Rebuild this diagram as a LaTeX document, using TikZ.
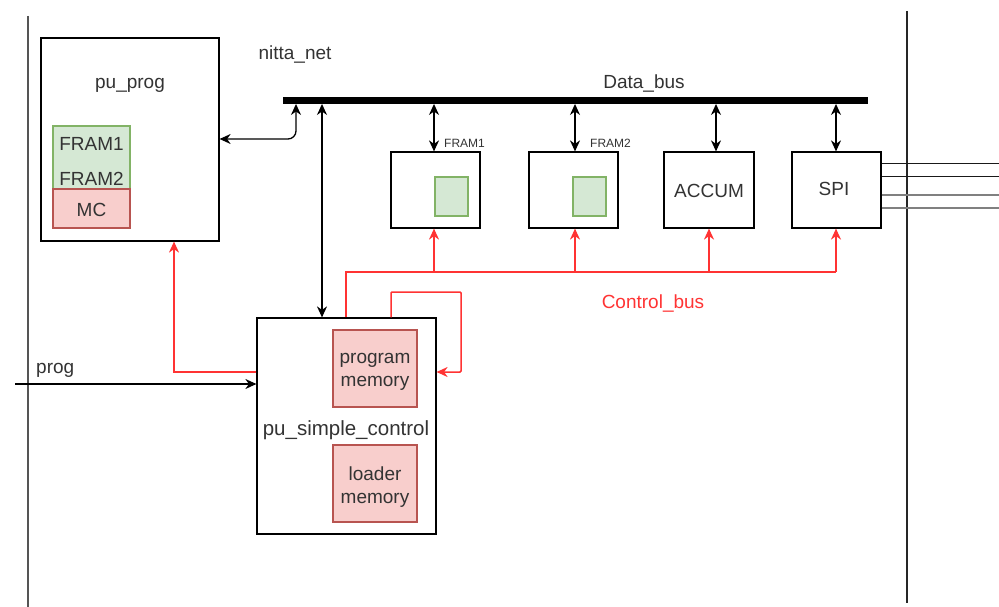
\documentclass[tikz,border=0pt]{standalone}
\usepackage{fontspec}
\setmainfont{Liberation Sans}
\usetikzlibrary{arrows.meta,calc}

\definecolor{txt}{HTML}{333333}
\definecolor{gfill}{HTML}{D5E8D4}
\definecolor{gline}{HTML}{82B366}
\definecolor{rfill}{HTML}{F8CECC}
\definecolor{rline}{HTML}{B85450}
\definecolor{ctrl}{HTML}{FF3333}
\definecolor{frame}{HTML}{555555}

\tikzset{
  x=1pt, y=-1pt,
  every node/.style={font=\fontsize{19}{23.5}\selectfont, text=txt, inner sep=0pt},
  unit/.style={draw=black, line width=1.2pt, fill=white, minimum width=#1},
  unit/.default=89pt,
  greenbox/.style={draw=gline, fill=gfill, line width=1.2pt},
  redbox/.style={draw=rline, fill=rfill, line width=1.2pt},
  tip/.style={-{Stealth[length=11pt,width=10pt,inset=3.5pt]}},
  bitip/.style={{Stealth[length=11pt,width=10pt,inset=3.5pt]}-{Stealth[length=11pt,width=10pt,inset=3.5pt]}},
  wire/.style={line width=1.3pt, draw=black},
  cwire/.style={line width=1.5pt, draw=ctrl},
  smalllabel/.style={font=\fontsize{12}{14}\selectfont, anchor=west},
}

\begin{document}
\begin{tikzpicture}
\useasboundingbox (0,0) rectangle (999,607);

% outer boundary lines
\draw[frame, line width=1.6pt] (28,16) -- (28,607);
\draw[black!85, line width=1.4pt] (907,11) -- (907,603);

% pu_prog block
\node[unit, minimum width=178pt, minimum height=203pt] (puprog) at (130,139.5) {};
\node (puprogT) at (130,85) {pu\_prog};
\node[greenbox, minimum width=77pt, minimum height=63pt] (fram) at (91.5,157.5) {};
\node (framA) at (91.5,144) {FRAM1};
\node (framB) at (91.5,178.5) {FRAM2};
\node[redbox, minimum width=77pt, minimum height=39pt] (mc) at (91.5,208.5) {};
\node (mcT) at (91.5,210) {MC};

\node (nitta) at (295,55) {nitta\_net};

% data bus
\node[fill=black, minimum width=585pt, minimum height=6.5pt] (bus) at (575.5,100.5) {};
\node (busT) at (644,84) {Data\_bus};

% processing units on the bus
\node[unit, minimum height=76pt] (fr1) at (435.5,190) {};
\node[greenbox, minimum width=33pt, minimum height=39pt] (fr1m) at (451.5,196.5) {};
\node[unit, minimum height=76pt] (fr2) at (573.5,190) {};
\node[greenbox, minimum width=33pt, minimum height=39pt] (fr2m) at (589.5,196.5) {};
\node[unit, minimum width=90pt, minimum height=76pt] (accum) at (709,190) {};
\node (accumT) at (709,191) {ACCUM};
\node[unit, minimum height=76pt] (spi) at (836.5,190) {};
\node (spiT) at (834,189) {SPI};

\node[smalllabel] (fr1L) at (444,143.5) {FRAM1};
\node[smalllabel] (fr2L) at (590,143.5) {FRAM2};

% tap points on the units
\coordinate (fr1Tap) at (434,0);
\coordinate (fr2Tap) at (575,0);
\coordinate (acTap) at (716,0);
\coordinate (spiTap) at (836,0);

% bus links
\draw[wire, bitip] (fr1Tap |- fr1.north) -- (fr1Tap |- bus.south);
\draw[wire, bitip] (fr2Tap |- fr2.north) -- (fr2Tap |- bus.south);
\draw[wire, bitip] (acTap |- accum.north) -- (acTap |- bus.south);
\draw[wire, bitip] (spiTap |- spi.north) -- (spiTap |- bus.south);
\coordinate (progTap) at (296,0);
\draw[wire, bitip, rounded corners=8pt] (puprog.east |- 0,139) -- (progTap |- 0,139) -- (progTap |- bus.south);

% SPI external lines
\draw[black!90, line width=1pt] (spi.east |- 0,164) -- (999,164);
\draw[black!90, line width=1pt] (spi.east |- 0,177) -- (999,177);
\draw[black!50, line width=1.6pt] (spi.east |- 0,195) -- (999,195);
\draw[black!50, line width=1.6pt] (spi.east |- 0,208) -- (999,208);

% pu_simple_control block
\node[unit, minimum width=179pt, minimum height=216pt] (ctl) at (346.5,426) {};
\node[font=\fontsize{20.5}{24}\selectfont] (ctlT) at (346,430) {pu\_simple\_control};
\node[redbox, minimum width=84pt, minimum height=77pt] (pmem) at (375,368.5) {};
\node[align=center] (pmemT) at (375,372) {program\\memory};
\node[redbox, minimum width=84pt, minimum height=77pt] (lmem) at (375,483.5) {};
\node[align=center] (lmemT) at (375,487) {loader\\memory};

\coordinate (ctlTap) at (322,0);
\draw[wire, bitip] (ctlTap |- ctl.north) -- (ctlTap |- bus.south);

% prog input
\coordinate (progIn) at (15,384);
\draw[wire, tip] (progIn) -- (ctl.west |- progIn);
\node[anchor=west] (progT) at (36,370) {prog};

% control bus
\coordinate (cb) at (346,272);
\draw[cwire] (ctl.north -| cb) -- (cb) -- (836,272);
\draw[cwire, tip] (fr1Tap |- cb) -- (fr1Tap |- fr1.south);
\draw[cwire, tip] (fr2Tap |- cb) -- (fr2Tap |- fr2.south);
\draw[cwire, tip] (accum.south |- cb) -- (accum.south);
\draw[cwire, tip] (spiTap |- cb) -- (spiTap |- spi.south);
\node[text=ctrl] (cbT) at (653,304) {Control\_bus};

% control to pu_prog
\coordinate (cp) at (174,372);
\draw[cwire, tip] (ctl.west |- cp) -- (cp) -- (cp |- puprog.south);

% feedback loop into program memory
\draw[cwire, tip, rounded corners=1pt] (391,0 |- ctl.north) -- (391,292) -- (461,292) -- (461,372) -- (ctl.east |- 0,372);
\end{tikzpicture}
\end{document}
